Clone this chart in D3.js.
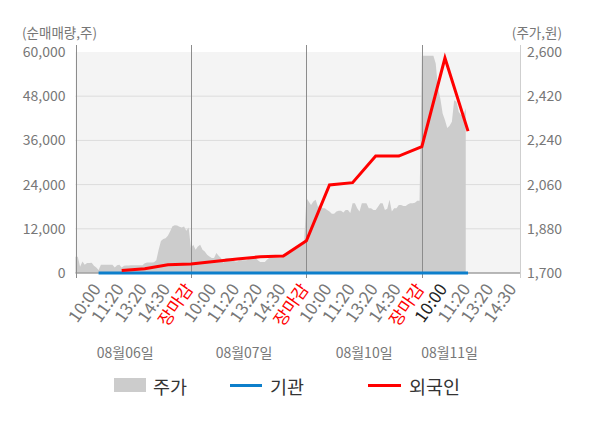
<!DOCTYPE html>
<html>
<head>
<meta charset="utf-8">
<script src="https://cdn.jsdelivr.net/npm/d3@7"></script>
<style>
  body { margin: 0; background: #fff; }
  text { font-family: "Noto Sans CJK KR", "Noto Sans", sans-serif; }
</style>
</head>
<body>
<div id="chart-area"></div>
<script>
// x-axis labels, one per slot
const timeLabels = [
  '10:00', '11:20', '13:20', '14:30', '장마감',
  '10:00', '11:20', '13:20', '14:30', '장마감',
  '10:00', '11:20', '13:20', '14:30', '장마감',
  '10:00', '11:20', '13:20', '14:30'
]
const dayLabels = ['08월06일', '08월07일', '08월10일', '08월11일']

// net buying (shares), one value per slot label
const foreign = [null, 700, 1160, 2250, 2440, 3140, 3790, 4410, 4600, 8750,
  23900, 24530, 31760, 31760, 34280, 58370, 38530, null, null]
const institution = [0, 0, 0, 0, 0, 0, 0, 0, 0, 0,
  0, 0, 0, 0, 0, 0, 0, null, null]

// price (won), ten samples per slot
const price = [
  1766, 1766, 1725, 1747, 1734, 1741, 1741, 1742, 1730, 1722,
  1712, 1734, 1734, 1734, 1734, 1734, 1734, 1722, 1732, 1734,
  1722, 1730, 1731, 1731, 1732, 1732, 1732, 1732, 1732, 1732,
  1740, 1743, 1743, 1743, 1744, 1752, 1795, 1830, 1838, 1842,
  1852, 1870, 1890, 1894, 1893, 1888, 1885, 1889, 1872, 1885,
  1802, 1815, 1795, 1808, 1815, 1795, 1788, 1774, 1767, 1761,
  1761, 1781, 1770, 1761, 1741, 1761, 1761, 1761, 1760, 1747,
  1747, 1752, 1752, 1752, 1752, 1758, 1761, 1761, 1761, 1752,
  1745, 1745, 1745, 1755, 1762, 1762, 1762, 1762, 1762, 1762,
  1768, 1775, 1777, 1786, 1790, 1799, 1801, 1810, 1813, 1822,
  2005, 1991, 1977, 1991, 1998, 1970, 1977, 1964, 1964, 1957,
  1950, 1941, 1941, 1950, 1954, 1954, 1946, 1957, 1957, 1944,
  1984, 1984, 1964, 1950, 1984, 1984, 1984, 1964, 1964, 1957,
  1957, 1970, 1984, 1984, 1957, 1962, 1998, 1950, 1964, 1964,
  1977, 1977, 1973, 1973, 1980, 1984, 1984, 1986, 1994, 1994,
  2585, 2585, 2585, 2585, 2585, 2585, 2553, 2450, 2411, 2350,
  2323, 2290, 2300, 2316, 2404, 2397, 2356, 2343, 2343, 2370
]

const volumeTicks = [0, 12000, 24000, 36000, 48000, 60000]
const priceTicks = [1700, 1880, 2060, 2240, 2420, 2600]

const width = 600
const height = 428
const plot = { left: 75.5, right: 520, top: 52, bottom: 273 }

const svg = d3.select('#chart-area')
  .append('svg')
    .attr('width', width)
    .attr('height', height)

const x = d3.scaleLinear()
  .domain([0, 19.25])
  .range([plot.left, plot.right])

const yVolume = d3.scaleLinear()
  .domain([0, 60000])
  .range([plot.bottom, plot.top])

const yPrice = d3.scaleLinear()
  .domain([1700, 2600])
  .range([plot.bottom, plot.top])

// plot background
svg.append('rect')
  .attr('x', plot.left)
  .attr('y', plot.top)
  .attr('width', plot.right - plot.left)
  .attr('height', plot.bottom - plot.top)
  .attr('fill', '#f4f4f4')

// horizontal grid
svg.append('g')
  .selectAll('line')
  .data(volumeTicks.slice(1, -1))
  .enter()
  .append('line')
    .attr('x1', plot.left)
    .attr('x2', plot.right)
    .attr('y1', d => yVolume(d))
    .attr('y2', d => yVolume(d))
    .attr('stroke', '#dcdcdc')
    .attr('stroke-width', 1)

// price area
const area = d3.area()
  .x((d, i) => x(i / 10))
  .y0(plot.bottom)
  .y1(d => yPrice(d))

svg.append('path')
  .datum(price)
  .attr('d', area)
  .attr('fill', '#cccccc')

// bottom axis line
svg.append('line')
  .attr('x1', plot.left)
  .attr('x2', plot.right)
  .attr('y1', plot.bottom)
  .attr('y2', plot.bottom)
  .attr('stroke', '#a0a0a0')
  .attr('stroke-width', 1.5)

// day separators and left axis line
svg.append('g')
  .selectAll('line')
  .data([0, 5, 10, 15])
  .enter()
  .append('line')
    .attr('x1', d => Math.round(x(d)) + 0.5)
    .attr('x2', d => Math.round(x(d)) + 0.5)
    .attr('y1', 45)
    .attr('y2', 278)
    .attr('stroke', '#8c8c8c')

svg.append('line')
  .attr('x1', plot.right + 0.5)
  .attr('x2', plot.right + 0.5)
  .attr('y1', 45)
  .attr('y2', 278)
  .attr('stroke', '#cfcfcf')

// lines
const line = d3.line()
  .defined(d => d !== null)
  .x((d, i) => x(i + 1))
  .y(d => yVolume(d))

svg.append('path')
  .datum(institution)
  .attr('d', line)
  .attr('fill', 'none')
  .attr('stroke', '#0d7fcb')
  .attr('stroke-width', 3)

svg.append('path')
  .datum(foreign)
  .attr('d', line)
  .attr('fill', 'none')
  .attr('stroke', '#ff0000')
  .attr('stroke-width', 3)
  .attr('stroke-linejoin', 'miter')

// y axes
const leftAxis = d3.axisLeft(yVolume)
  .tickValues(volumeTicks)
  .tickFormat(d3.format(','))
  .tickSize(0)
  .tickPadding(10)
const gLeft = svg.append('g')
  .attr('transform', `translate(${plot.left}, 0)`)
  .call(leftAxis)
gLeft.select('.domain').remove()
gLeft.selectAll('text')
  .attr('font-size', 14)
  .attr('fill', '#777')
  .style('font-family', '"Noto Sans CJK KR", sans-serif')

const rightAxis = d3.axisRight(yPrice)
  .tickValues(priceTicks)
  .tickFormat(d3.format(','))
  .tickSize(0)
  .tickPadding(7)
const gRight = svg.append('g')
  .attr('transform', `translate(${plot.right}, 0)`)
  .call(rightAxis)
gRight.select('.domain').remove()
gRight.selectAll('text')
  .attr('font-size', 14)
  .attr('fill', '#777')
  .style('font-family', '"Noto Sans CJK KR", sans-serif')

// axis titles
svg.append('text')
  .attr('x', 22)
  .attr('y', 38)
  .attr('font-size', 13.5)
  .attr('fill', '#777')
  .text('(순매매량,주)')

svg.append('text')
  .attr('x', 562)
  .attr('y', 38)
  .attr('text-anchor', 'end')
  .attr('font-size', 13.5)
  .attr('fill', '#777')
  .text('(주가,원)')

// x labels
svg.append('g')
  .selectAll('text')
  .data(timeLabels)
  .enter()
  .append('text')
    .attr('transform', (d, i) => `translate(${x(i + 1) + 3}, 289) rotate(-55)`)
    .attr('text-anchor', 'end')
    .attr('font-size', 17)
    .attr('fill', (d, i) => d === '장마감' ? '#ff0000' : (i === 15 ? '#222' : '#777'))
    .text(d => d)

const dayAt = [2.15, 7.3, 12.5, 16.2]
svg.append('g')
  .selectAll('text')
  .data(dayLabels)
  .enter()
  .append('text')
    .attr('x', (d, i) => x(dayAt[i]))
    .attr('y', 358)
    .attr('text-anchor', 'middle')
    .attr('font-size', 14)
    .attr('fill', '#777')
    .text(d => d)

// legend
const legend = svg.append('g')
legend.append('rect')
  .attr('x', 114).attr('y', 378)
  .attr('width', 32).attr('height', 14)
  .attr('fill', '#cccccc')
legend.append('line')
  .attr('x1', 230).attr('x2', 262)
  .attr('y1', 385.5).attr('y2', 385.5)
  .attr('stroke', '#0d7fcb').attr('stroke-width', 3)
legend.append('line')
  .attr('x1', 368).attr('x2', 401)
  .attr('y1', 385.5).attr('y2', 385.5)
  .attr('stroke', '#ff0000').attr('stroke-width', 3)

legend.selectAll('text')
  .data([['주가', 153], ['기관', 270], ['외국인', 409]])
  .enter()
  .append('text')
    .attr('x', d => d[1])
    .attr('y', 394)
    .attr('font-size', 18.5)
    .attr('fill', '#333')
    .text(d => d[0])
</script>
</body>
</html>
